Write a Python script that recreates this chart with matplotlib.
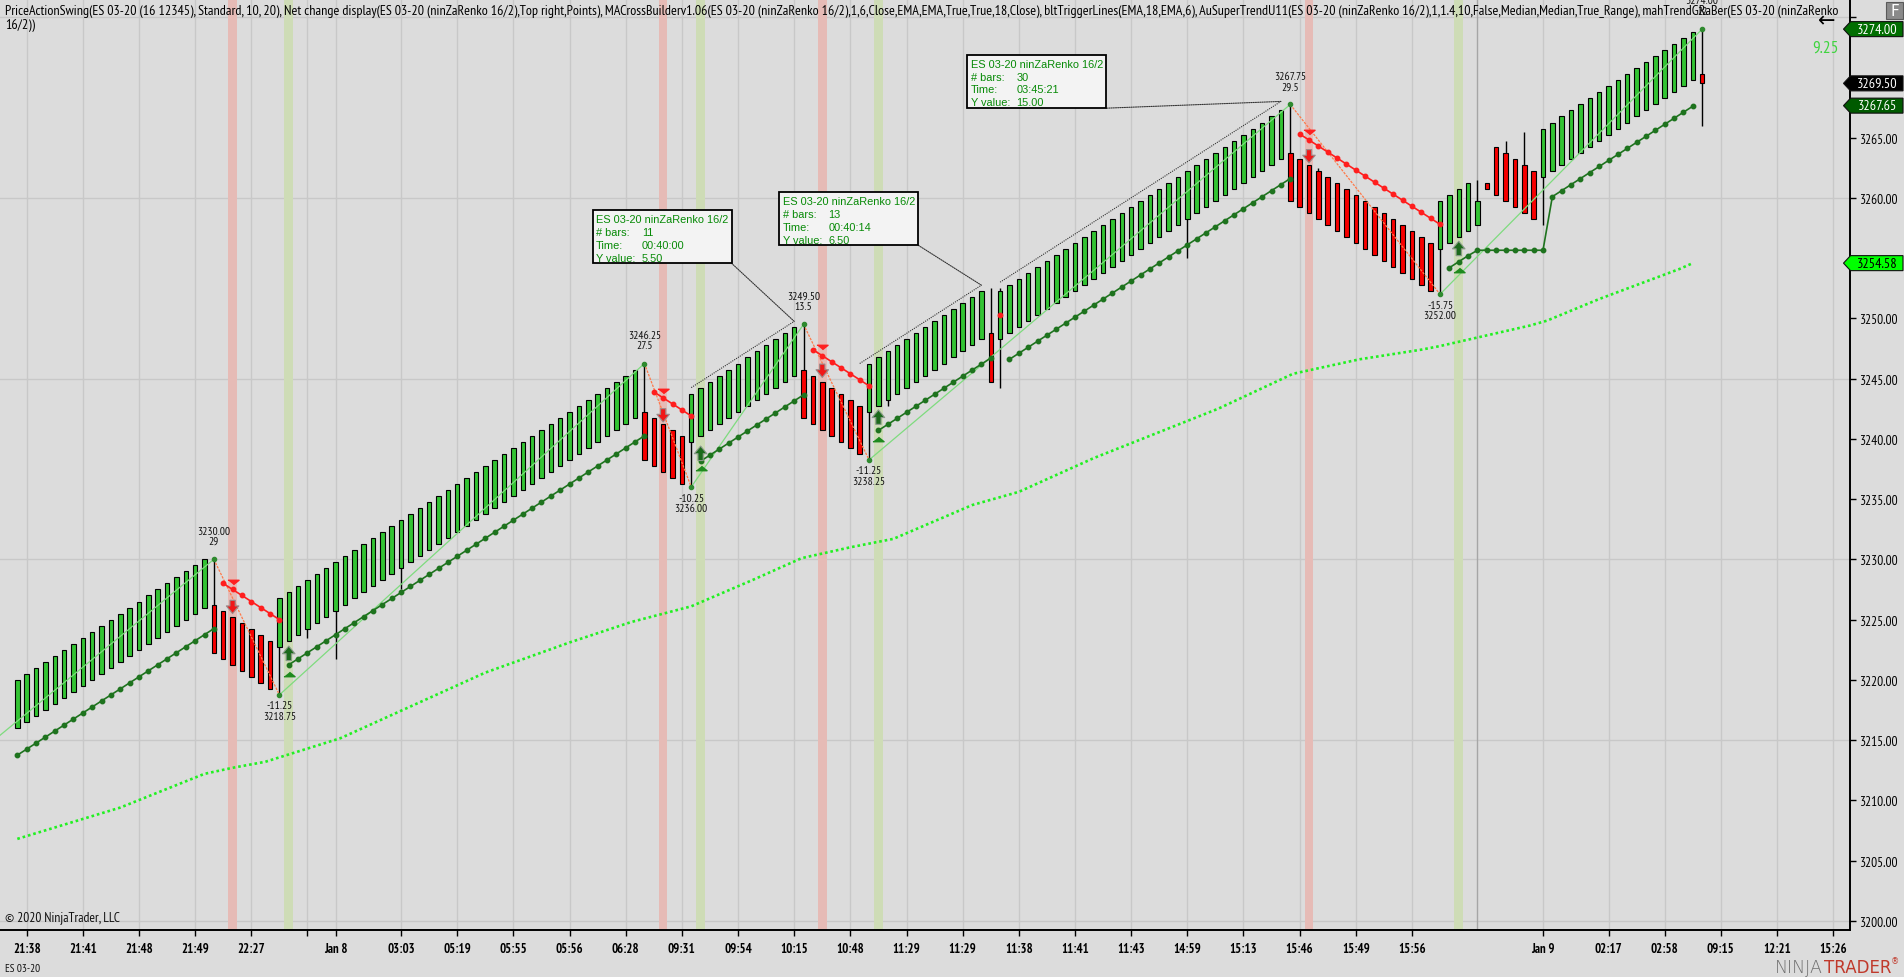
import os
import matplotlib
matplotlib.use('Agg')
import matplotlib.pyplot as plt
import matplotlib.transforms as mtransforms
from matplotlib import font_manager as fm
from matplotlib.font_manager import FontProperties
from matplotlib.patches import Rectangle, Polygon, ConnectionPatch

# ---- renko bars (index 0..180) ----
opens = [
    3216.0, 3216.5, 3217.0, 3217.5, 3218.0, 3218.5, 3219.0, 3219.5, 3220.0, 3220.5,
    3221.0, 3221.5, 3222.0, 3222.5, 3223.0, 3223.5, 3224.0, 3224.5, 3225.0, 3225.5,
    3226.0, 3226.25, 3225.75, 3225.25, 3224.75, 3224.25, 3223.75, 3223.25, 3222.75, 3223.25,
    3223.75, 3224.25, 3224.75, 3225.25, 3225.75, 3226.25, 3226.75, 3227.25, 3227.75, 3228.25,
    3228.75, 3229.25, 3229.75, 3230.25, 3230.75, 3231.25, 3231.75, 3232.25, 3232.75, 3233.25,
    3233.75, 3234.25, 3234.75, 3235.25, 3235.75, 3236.25, 3236.75, 3237.25, 3237.75, 3238.25,
    3238.75, 3239.25, 3239.75, 3240.25, 3240.75, 3241.25, 3241.75, 3242.25, 3241.75, 3241.25,
    3240.75, 3240.25, 3239.75, 3240.25, 3240.75, 3241.25, 3241.75, 3242.25, 3242.75, 3243.25,
    3243.75, 3244.25, 3244.75, 3245.25, 3245.75, 3245.25, 3244.75, 3244.25, 3243.75, 3243.25,
    3242.75, 3242.25, 3242.75, 3243.25, 3243.75, 3244.25, 3244.75, 3245.25, 3245.75, 3246.25,
    3246.75, 3247.25, 3247.75, 3248.25, 3248.75, 3248.25, 3248.75, 3249.25, 3249.75, 3250.25,
    3250.75, 3251.25, 3251.75, 3252.25, 3252.75, 3253.25, 3253.75, 3254.25, 3254.75, 3255.25,
    3255.75, 3256.25, 3256.75, 3257.25, 3257.75, 3258.25, 3258.75, 3259.25, 3259.75, 3260.25,
    3260.75, 3261.25, 3261.75, 3262.25, 3262.75, 3263.25, 3263.75, 3263.25, 3262.75, 3262.25,
    3261.75, 3261.25, 3260.75, 3260.25, 3259.75, 3259.25, 3258.75, 3258.25, 3257.75, 3257.25,
    3256.75, 3256.25, 3255.75, 3256.25, 3256.75, 3257.25, 3257.75, 3261.25, 3264.25, 3263.75,
    3263.25, 3262.75, 3262.25, 3261.75, 3262.25, 3262.75, 3263.25, 3263.75, 3264.25, 3264.75,
    3265.25, 3265.75, 3266.25, 3266.75, 3267.25, 3267.75, 3268.25, 3268.75, 3269.25, 3269.75,
    3270.25]
closes = [
    3220.0, 3220.5, 3221.0, 3221.5, 3222.0, 3222.5, 3223.0, 3223.5, 3224.0, 3224.5,
    3225.0, 3225.5, 3226.0, 3226.5, 3227.0, 3227.5, 3228.0, 3228.5, 3229.0, 3229.5,
    3230.0, 3222.25, 3221.75, 3221.25, 3220.75, 3220.25, 3219.75, 3219.25, 3226.75, 3227.25,
    3227.75, 3228.25, 3228.75, 3229.25, 3229.75, 3230.25, 3230.75, 3231.25, 3231.75, 3232.25,
    3232.75, 3233.25, 3233.75, 3234.25, 3234.75, 3235.25, 3235.75, 3236.25, 3236.75, 3237.25,
    3237.75, 3238.25, 3238.75, 3239.25, 3239.75, 3240.25, 3240.75, 3241.25, 3241.75, 3242.25,
    3242.75, 3243.25, 3243.75, 3244.25, 3244.75, 3245.25, 3245.75, 3238.25, 3237.75, 3237.25,
    3236.75, 3236.25, 3243.75, 3244.25, 3244.75, 3245.25, 3245.75, 3246.25, 3246.75, 3247.25,
    3247.75, 3248.25, 3248.75, 3249.25, 3241.75, 3241.25, 3240.75, 3240.25, 3239.75, 3239.25,
    3238.75, 3246.25, 3246.75, 3247.25, 3247.75, 3248.25, 3248.75, 3249.25, 3249.75, 3250.25,
    3250.75, 3251.25, 3251.75, 3252.25, 3244.75, 3252.25, 3252.75, 3253.25, 3253.75, 3254.25,
    3254.75, 3255.25, 3255.75, 3256.25, 3256.75, 3257.25, 3257.75, 3258.25, 3258.75, 3259.25,
    3259.75, 3260.25, 3260.75, 3261.25, 3261.75, 3262.25, 3262.75, 3263.25, 3263.75, 3264.25,
    3264.75, 3265.25, 3265.75, 3266.25, 3266.75, 3267.25, 3259.75, 3259.25, 3258.75, 3258.25,
    3257.75, 3257.25, 3256.75, 3256.25, 3255.75, 3255.25, 3254.75, 3254.25, 3253.75, 3253.25,
    3252.75, 3252.25, 3259.75, 3260.25, 3260.75, 3261.25, 3259.75, 3260.75, 3260.25, 3259.75,
    3259.25, 3258.75, 3258.25, 3265.75, 3266.25, 3266.75, 3267.25, 3267.75, 3268.25, 3268.75,
    3269.25, 3269.75, 3270.25, 3270.75, 3271.25, 3271.75, 3272.25, 3272.75, 3273.25, 3273.75,
    3269.5]

# bars that show a wick outside the body
wick_bar = [21, 28, 31, 34, 41, 67, 72, 84, 91, 93, 104, 105, 125, 136, 139, 152, 156, 159, 161, 163, 180]
wick_hi = [3230.0, 3226.75, 3228.25, 3229.75, 3233.25, 3246.25, 3243.75, 3249.5, 3246.25, 3247.25, 3252.5,
           3252.5, 3262.25, 3267.75, 3262.5, 3259.75, 3261.5, 3264.75, 3265.5, 3265.75, 3274.0]
wick_lo = [3222.25, 3218.75, 3223.5, 3221.75, 3227.5, 3238.25, 3236.0, 3241.75, 3238.25, 3242.75, 3244.75,
           3244.25, 3255.0, 3259.75, 3258.25, 3252.0, 3257.75, 3259.75, 3258.75, 3257.75, 3266.0]

# ---- super trend segments ----
st_start = [0, 22, 29, 68, 73, 85, 92, 105, 106, 137, 153]
st_dir = [1, -1, 1, -1, 1, -1, 1, -1, 1, -1, 1]
st_vals = [
    [3213.75, 3214.25, 3214.75, 3215.25, 3215.75, 3216.25, 3216.75, 3217.25, 3217.75, 3218.25, 3218.75,
     3219.25, 3219.75, 3220.25, 3220.75, 3221.25, 3221.75, 3222.25, 3222.75, 3223.25, 3223.75, 3224.25],
    [3228.0, 3227.5, 3227.0, 3226.5, 3226.0, 3225.5, 3225.0],
    [3221.25, 3221.75, 3222.25, 3222.75, 3223.25, 3223.75, 3224.25, 3224.75, 3225.25, 3225.75,
     3226.25, 3226.75, 3227.25, 3227.75, 3228.25, 3228.75, 3229.25, 3229.75, 3230.25, 3230.75,
     3231.25, 3231.75, 3232.25, 3232.75, 3233.25, 3233.75, 3234.25, 3234.75, 3235.25, 3235.75,
     3236.25, 3236.75, 3237.25, 3237.75, 3238.25, 3238.75, 3239.25, 3239.75, 3240.25],
    [3243.9, 3243.4, 3242.9, 3242.4, 3241.9],
    [3238.15, 3238.65, 3239.15, 3239.65, 3240.15, 3240.65, 3241.15, 3241.65, 3242.15, 3242.65, 3243.15, 3243.65],
    [3247.4, 3246.9, 3246.4, 3245.9, 3245.4, 3244.9, 3244.4],
    [3240.7, 3241.2, 3241.7, 3242.2, 3242.7, 3243.2, 3243.7, 3244.2, 3244.7, 3245.2, 3245.7, 3246.2, 3246.7],
    [3250.3],
    [3246.6, 3247.1, 3247.6, 3248.1, 3248.6, 3249.1, 3249.6, 3250.1, 3250.6, 3251.1,
     3251.6, 3252.1, 3252.6, 3253.1, 3253.6, 3254.1, 3254.6, 3255.1, 3255.6, 3256.1,
     3256.6, 3257.1, 3257.6, 3258.1, 3258.6, 3259.1, 3259.6, 3260.1, 3260.6, 3261.1, 3261.6],
    [3265.3, 3264.8, 3264.3, 3263.8, 3263.3, 3262.8, 3262.3, 3261.8, 3261.3, 3260.8,
     3260.3, 3259.8, 3259.3, 3258.8, 3258.3, 3257.8],
    [3254.2, 3254.7, 3255.2, 3255.65, 3255.65, 3255.65, 3255.65, 3255.65, 3255.65, 3255.65, 3255.65,
     3260.1, 3260.6, 3261.1, 3261.6, 3262.1, 3262.6, 3263.1, 3263.6, 3264.1, 3264.6, 3265.1,
     3265.6, 3266.1, 3266.6, 3267.1, 3267.6],
]

# ---- slow moving average (lime dotted) ----
ma_bar = [0, 11, 20, 23, 26.5, 34.5, 50, 59, 65.6, 72, 78.6, 83.8, 89, 93.6, 102, 107, 115,
          128.3, 136.3, 143.4, 150, 152, 161.6, 163.4, 169, 177.6, 179]
ma_val = [3206.8, 3209.4, 3212.2, 3212.7, 3213.2, 3215.15, 3220.6, 3223.1, 3224.8, 3226.1, 3228.3,
          3230.1, 3231.0, 3231.7, 3234.5, 3235.6, 3238.4, 3242.5, 3245.4, 3246.6, 3247.4, 3247.7,
          3249.4, 3249.8, 3251.6, 3254.1, 3254.58]

# ---- price action swings ----
zz_bar = [-2, 21, 28, 67, 72, 84, 91, 136, 152, 180]
zz_px = [3215.3, 3230.0, 3218.75, 3246.25, 3236.0, 3249.5, 3238.25, 3267.75, 3252.0, 3274.0]
swing_line1 = ['3230.00', '-11.25', '3246.25', '-10.25', '3249.50', '-11.25', '3267.75', '-15.75', '3274.00']
swing_line2 = ['29', '3218.75', '27.5', '3236.00', '13.5', '3238.25', '29.5', '3252.00', '22']

# ---- MA cross signals ----
band_dn = [23, 69, 86, 138]
band_up = [29, 73, 92, 154]
sig_dn_tri = [3228.1, 3244.0, 3247.6, 3265.5]
sig_dn_arrow = [3226.6, 3242.5, 3246.2, 3264.0]
sig_up_tri = [3220.5, 3237.6, 3240.0, 3254.05]
sig_up_arrow = [3221.6, 3238.2, 3241.2, 3255.2]

# ---- rulers ----
ruler_x0 = [72, 90, 105]
ruler_y0 = [3244.25, 3246.25, 3253.0]
ruler_x1 = [83, 103, 135]
ruler_y1 = [3249.75, 3252.75, 3268.0]
box_x = [61.47, 81.41, 101.5]
box_y = [3259.0, 3260.5, 3271.88]
box_bars = ['11', '13', '30']
box_time = ['00:40:00', '00:40:14', '03:45:21']
box_yval = ['5.50', '6.50', '15.00']

# ---- axes ----
tick_bars = [1, 7, 13, 19, 25, 31, 34, 41, 47, 53, 59, 65, 71, 77, 83, 89, 95, 101, 107, 113, 119,
             125, 131, 137, 143, 149, 163, 170, 176, 182, 188, 194]
tick_labels = ['21:38', '21:41', '21:48', '21:49', '22:27', '', 'Jan 8', '03:03', '05:19', '05:55',
               '05:56', '06:28', '09:31', '09:54', '10:15', '10:48', '11:29', '11:29', '11:38', '11:41',
               '11:43', '14:59', '15:13', '15:46', '15:49', '15:56', 'Jan 9', '02:17', '02:58', '09:15',
               '12:21', '15:26']
session_bar = 156
y_ticks = [3200, 3205, 3210, 3215, 3220, 3225, 3230, 3235, 3240, 3245, 3250, 3255, 3260, 3265, 3270, 3275]
y_hidden = [3255, 3270, 3275]
h_grid = [3200, 3215, 3230, 3245, 3260, 3275]

tag_vals = [3274.00, 3269.50, 3267.65, 3254.58]
tag_face = ['#006E00', '#000000', '#005A00', '#00FF00']
tag_text = ['white', 'white', 'white', 'black']

title1 = ('PriceActionSwing(ES 03-20 (16 12345), Standard, 10, 20), Net change display(ES 03-20 (ninZaRenko 16/2),'
          'Top right,Points), MACrossBuilderv1.06(ES 03-20 (ninZaRenko 16/2),1,6,Close,EMA,EMA,True,True,18,Close), '
          'bltTriggerLines(EMA,18,EMA,6), AuSuperTrendU11(ES 03-20 (ninZaRenko 16/2),1,1.4,10,False,Median,Median,'
          'True_Range), mahTrendGRaBer(ES 03-20 (ninZaRenko')
title2 = '16/2))'

BG = '#DCDCDC'
GREEN = '#33C433'
RED = '#F80000'
W, H = 1904, 978


# narrow chart font if present, else Liberation Sans shrunk to similar widths
def find_font(bold):
    for f in fm.fontManager.ttflist:
        base = os.path.basename(f.fname).lower()
        if 'narrow' in base and 'sans' in base and 'italic' not in base:
            if ('bold' in base) == bold:
                return f.fname
    return None


NARROW_R = find_font(False)
NARROW_B = find_font(True)


def nf(size, bold=False):
    if NARROW_R:
        path = NARROW_B if (bold and NARROW_B) else NARROW_R
        return FontProperties(fname=path, size=size)
    return FontProperties(family=['Liberation Sans', 'DejaVu Sans'], weight='bold' if bold else 'normal',
                          size=size * 0.82)


fig = plt.figure(figsize=(W / 100, H / 100), dpi=100)
fig.patch.set_facecolor(BG)
ax = fig.add_axes([0, 47 / H, 1850 / W, 931 / H])
ax.set_facecolor(BG)
ax.set_xlim(-1.85, 195.8)
ax.set_ylim(3199.24, 3276.5)


def px_tr(x, y):
    # pixel offsets (in 1/100 inch) from a data point
    return fig.dpi_scale_trans + mtransforms.ScaledTranslation(x, y, ax.transData)


# grid, bands, session line
for g in h_grid:
    ax.axhline(g, color='#C8C8C8', lw=1, zorder=0)
ax.set_xticks(tick_bars)
ax.grid(axis='x', color='#C8C8C8', lw=1, zorder=0)
ax.set_axisbelow(True)
for b in band_dn:
    ax.axvspan(b - 0.46, b + 0.46, color='#E6BBB6', lw=0, zorder=1)
for b in band_up:
    ax.axvspan(b - 0.46, b + 0.46, color='#CEDCB6', lw=0, zorder=1)
ax.axvline(session_bar, color='#A6A6A6', lw=1, zorder=1)

# slow MA
ax.plot(ma_bar, ma_val, color='#22F022', lw=1.9, ls=(0, (1, 1.1)), zorder=2)

# renko bars
idx = list(range(len(closes)))
colors = [GREEN if c >= o else RED for o, c in zip(opens, closes)]
bottoms = [min(o, c) for o, c in zip(opens, closes)]
heights = [abs(c - o) for o, c in zip(opens, closes)]
ax.vlines(wick_bar, wick_lo, wick_hi, color='black', lw=1, zorder=3)
ax.bar(idx, heights, bottom=bottoms, width=0.48, color=colors, edgecolor='black', linewidth=0.8, zorder=4)

# swing zigzag
for k in range(len(zz_bar) - 1):
    rising = zz_px[k + 1] > zz_px[k]
    ax.plot(zz_bar[k:k + 2], zz_px[k:k + 2], color='#7EDB7E' if rising else '#FF7A4A',
            lw=0.9, ls='-' if rising else (0, (2, 1)), zorder=5)
ax.plot(zz_bar[1:], zz_px[1:], ls='none', marker='o', ms=3, color='#2F8A2F', zorder=6)
for k, (b, p) in enumerate(zip(zz_bar[1:], zz_px[1:])):
    high = swing_line1[k][0] != '-'
    d1, d2 = (28.7, 18.2) if high else (-10.5, -21)
    for txt, d in ((swing_line1[k], d1), (swing_line2[k], d2)):
        ax.annotate(txt, (b, p), xytext=(0, d), textcoords='offset pixels', ha='center', va='center',
                    fontproperties=nf(8.3), color='#111111', zorder=8, annotation_clip=False)

# super trend
for s, d, vals in zip(st_start, st_dir, st_vals):
    xs = list(range(s, s + len(vals)))
    col = '#1E731E' if d > 0 else '#FF1E1E'
    ax.plot(xs, vals, color=col, lw=1.2, marker='o', ms=3.2, zorder=6)

# signal markers: flat triangles and short block arrows
tri_dn = [(-1, 0.4), (1, 0.4), (0, -0.4)]
tri_up = [(-1, -0.4), (1, -0.4), (0, 0.4)]
arrow_style = 'simple,head_width=0.9,head_length=0.55,tail_width=0.38'
for b, t, a in zip(band_dn, sig_dn_tri, sig_dn_arrow):
    ax.plot(b, t, marker=tri_dn, ms=8, color='#FF2020', zorder=7)
    ax.annotate('', xy=(b, a - 1.1), xytext=(b, a), zorder=7,
                arrowprops=dict(arrowstyle=arrow_style, facecolor='#F01818', edgecolor='#9A8A8A', lw=0.8,
                                shrinkA=0, shrinkB=0, mutation_scale=10))
for b, t, a in zip(band_up, sig_up_tri, sig_up_arrow):
    ax.plot(b, t, marker=tri_up, ms=8, color='#1E8A1E', zorder=7)
    ax.annotate('', xy=(b, a + 1.2), xytext=(b, a), zorder=7,
                arrowprops=dict(arrowstyle=arrow_style, facecolor='#1B6A1B', edgecolor='#8A9A8A', lw=0.8,
                                shrinkA=0, shrinkB=0, mutation_scale=10))

# rulers with info boxes
BW, BH = 139, 53.5
box_font = FontProperties(family=['Liberation Sans', 'DejaVu Sans'], size=7.9)
for k in range(3):
    ax.plot([ruler_x0[k], ruler_x1[k]], [ruler_y0[k], ruler_y1[k]], color='#333333', lw=0.8,
            ls=(0, (1, 1)), zorder=6)
    tr = px_tr(box_x[k], box_y[k])
    ax.add_patch(Rectangle((0, -BH / 100), BW / 100, BH / 100, transform=tr, facecolor='#F3F3F3',
                           edgecolor='black', lw=1.3, zorder=9, clip_on=False))
    con = ConnectionPatch(xyA=(ruler_x1[k], ruler_y1[k]), coordsA=ax.transData,
                          xyB=(BW / 100, -BH / 100), coordsB=tr, color='#333333', lw=0.8,
                          ls=(0, (1, 1)), zorder=6)
    ax.add_artist(con)
    rows = [('ES 03-20 ninZaRenko 16/2', None), ('# bars:', box_bars[k]),
            ('Time:', box_time[k]), ('Y value:', box_yval[k])]
    for r, (lab, val) in enumerate(rows):
        yy = -(9 + 12.9 * r) / 100
        ax.text(3.5 / 100, yy, lab, transform=tr, va='center', ha='left', fontproperties=box_font,
                color='#078A07', zorder=10)
        if val:
            ax.text(49 / 100, yy, val, transform=tr, va='center', ha='left', fontproperties=box_font,
                    color='#078A07', zorder=10)

# axes cosmetics
for sp in ('top', 'left'):
    ax.spines[sp].set_visible(False)
for sp in ('bottom', 'right'):
    ax.spines[sp].set_color('black')
    ax.spines[sp].set_linewidth(1.4)
ax.set_xticklabels(tick_labels, fontproperties=nf(9.2, bold=True))
ax.tick_params(axis='x', direction='out', length=4.5, width=1, pad=4, colors='black')
ax.yaxis.tick_right()
ax.set_yticks(y_ticks)
ax.set_yticklabels(['' if v in y_hidden else f'{v:.2f}' for v in y_ticks], fontproperties=nf(9.6))
ax.tick_params(axis='y', direction='out', length=4.5, width=1, pad=2.5, colors='black')
ax.grid(axis='y', visible=False)

# price tags on the right axis
tag_tr = mtransforms.blended_transform_factory(ax.transAxes, ax.transData)
for v, fc, tc in zip(tag_vals, tag_face, tag_text):
    tr = fig.dpi_scale_trans + mtransforms.ScaledTranslation(1.0, v, tag_tr)
    pts = [(-6.5 / 100, 0), (0.5 / 100, 7.5 / 100), (53 / 100, 7.5 / 100), (53 / 100, -7.5 / 100),
           (0.5 / 100, -7.5 / 100)]
    ax.add_patch(Polygon(pts, closed=True, transform=tr, facecolor=fc, edgecolor='#101010', lw=0.8,
                         zorder=11, clip_on=False))
    ax.text(27.5 / 100, 0, f'{v:.2f}', transform=tr, ha='center', va='center', fontproperties=nf(10.2),
            color=tc, zorder=12, clip_on=False)

# figure texts
fig.text(5 / W, 1 - 11.7 / H, title1, fontproperties=nf(10.1), va='center', ha='left', color='black')
fig.text(5 / W, 1 - 25 / H, title2, fontproperties=nf(10.1), va='center', ha='left', color='black')
fig.text(1825.5 / W, 1 - 48.5 / H, '9.25', fontproperties=nf(12.5), color='#3FD43F', ha='center', va='center')
fig.text(1827 / W, 1 - 21 / H, '\u2190', fontsize=15, color='black', ha='center', va='center')
fig.patches.append(Rectangle((1886 / W, 1 - 20 / H), 17 / W, 17.5 / H, transform=fig.transFigure,
                             facecolor='#8A8A8A', edgecolor='#5A5A5A', lw=0.8))
fig.text(1894.5 / W, 1 - 11.5 / H, 'F', fontsize=11, color='white', ha='center', va='center')
fig.text(5 / W, 1 - 918 / H, '\u00a9 2020 NinjaTrader, LLC', fontproperties=nf(9.7), color='#111111',
         va='center', ha='left')
fig.text(5 / W, 1 - 969 / H, 'ES 03-20', fontproperties=nf(8), color='#111111', va='center', ha='left')
fig.text(1823 / W, 1 - 968 / H, 'NINJA', fontsize=12.5, color='#6E6E6E', va='center', ha='right',
         fontweight='light')
fig.text(1824 / W, 1 - 968 / H, 'TRADER', fontsize=12, color='#C0392B', va='center', ha='left')
fig.text(1891 / W, 1 - 962 / H, '\u00ae', fontsize=6, color='#C0392B', va='center', ha='left')

fig.savefig('out.png', dpi=100, facecolor=BG)
